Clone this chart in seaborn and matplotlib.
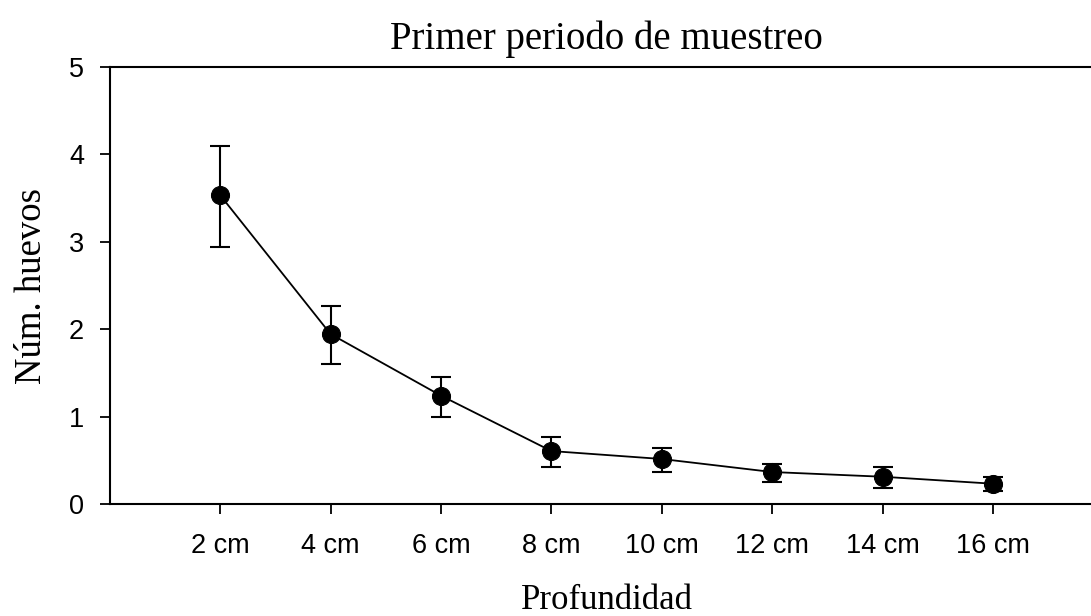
import numpy as np
import pandas as pd
import matplotlib
matplotlib.use("Agg")
import matplotlib.pyplot as plt
import seaborn as sns

# Data
categories = ["2 cm", "4 cm", "6 cm", "8 cm", "10 cm", "12 cm", "14 cm", "16 cm"]
means = [3.535, 1.945, 1.24, 0.606, 0.515, 0.366, 0.312, 0.232]
upper = [4.10, 2.27, 1.457, 0.767, 0.641, 0.458, 0.427, 0.312]
lower = [2.94, 1.60, 0.995, 0.423, 0.363, 0.255, 0.183, 0.145]
yticks = [0, 1, 2, 3, 4, 5]

sns.set_theme(style="ticks")
plt.rcParams["font.family"] = ["Liberation Sans", "DejaVu Sans"]
plt.rcParams["text.color"] = "black"
plt.rcParams["axes.labelcolor"] = "black"
plt.rcParams["xtick.color"] = "black"
plt.rcParams["ytick.color"] = "black"

pos = np.arange(1, len(categories) + 1)
df = pd.DataFrame({"pos": pos, "mean": means, "up": upper, "lo": lower})

fig = plt.figure(figsize=(10.91, 6.16), dpi=100)
ax = fig.add_axes([0.1005, 0.1818, 0.911, 0.7094])

sns.lineplot(data=df, x="pos", y="mean", ax=ax, color="black", linewidth=1.3,
             marker="o", markersize=13, markeredgecolor="black", zorder=3)
yerr = np.array([df["mean"] - df["lo"], df["up"] - df["mean"]])
ax.errorbar(df["pos"], df["mean"], yerr=yerr, fmt="none", ecolor="black",
            elinewidth=1.5, capsize=7, capthick=1.5, zorder=2)

ax.set_xlim(0, len(categories) + 1)
ax.set_ylim(0, 5)
ax.set_xticks(pos)
ax.set_xticklabels(categories)
ax.set_yticks(yticks)
ax.tick_params(axis="both", labelsize=19.5, direction="out", width=1.3,
               color="black", labelcolor="black")
ax.tick_params(axis="x", length=7, pad=14)
ax.tick_params(axis="y", length=7.5, pad=11)

for s in ["left", "bottom", "top"]:
    ax.spines[s].set_linewidth(1.5)
    ax.spines[s].set_color("black")
ax.spines["right"].set_visible(False)

serif = ["Liberation Serif", "DejaVu Serif"]
ax.set_title("Primer periodo de muestreo", fontsize=28, family=serif, pad=13,
             color="black")
ax.set_xlabel("Profundidad", fontsize=25, family=serif, labelpad=18)
ax.set_ylabel("Núm. huevos", fontsize=26.5, family=serif, labelpad=14)

fig.savefig("out.png", dpi=100)
